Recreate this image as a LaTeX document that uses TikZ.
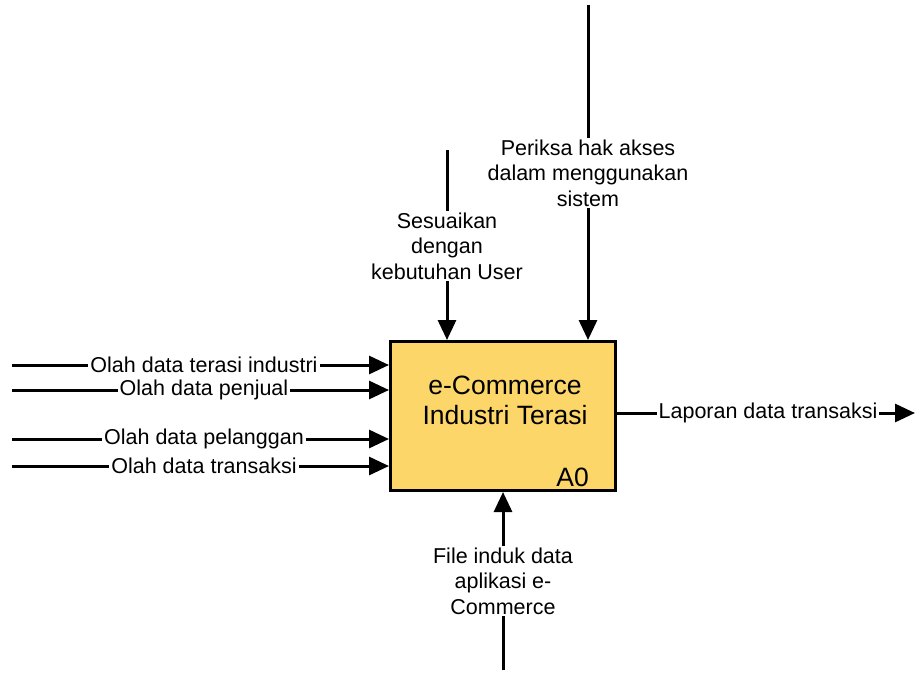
\documentclass[tikz,border=0pt]{standalone}
\usepackage{fontspec}
\setmainfont{Liberation Sans}
\usetikzlibrary{arrows.meta}
\definecolor{boxfill}{RGB}{252,214,104}
\begin{document}
\begin{tikzpicture}[x=1pt,y=-1pt,
  flow/.style={line width=3pt,-{Triangle[length=20pt,width=18pt]}},
  lbl/.style={fill=white,inner sep=2pt,font=\fontsize{21.5}{25.5}\selectfont,align=center},
  funcbox/.style={draw,line width=3pt,fill=boxfill,minimum width=225pt,minimum height=149pt,inner sep=0pt}]
\useasboundingbox (0,0) rectangle (917,675);

% activity box A0
\node[funcbox] (box) at (503,416) {};
\node[font=\fontsize{26.5}{30}\selectfont,align=center] (title) at (505,400) {e-Commerce\\Industri Terasi};
\node[font=\fontsize{26.5}{30}\selectfont,anchor=east,inner sep=0pt] (num) at (589,477) {A0};

% inputs
\coordinate (i1) at (12,365);
\coordinate (i2) at (12,390);
\coordinate (i3) at (12,439);
\coordinate (i4) at (12,466);
\draw[flow] (i1) -- (i1 -| box.west);
\draw[flow] (i2) -- (i2 -| box.west);
\draw[flow] (i3) -- (i3 -| box.west);
\draw[flow] (i4) -- (i4 -| box.west);
\node[lbl] (li1) at (204,365) {Olah data terasi industri};
\node[lbl] (li2) at (204,390) {Olah data penjual};
\node[lbl] (li3) at (204,439) {Olah data pelanggan};
\node[lbl] (li4) at (204,466) {Olah data transaksi};

% controls
\coordinate (c1) at (447,150);
\coordinate (c2) at (588,5);
\draw[flow] (c1) -- (c1 |- box.north);
\draw[flow] (c2) -- (c2 |- box.north);
\node[lbl] (lc1) at (447,246) {Sesuaikan\\dengan\\kebutuhan User};
\node[lbl] (lc2) at (588,173) {Periksa hak akses\\dalam menggunakan\\sistem};

% mechanism
\coordinate (m1) at (503,670);
\draw[flow] (m1) -- (m1 |- box.south);
\node[lbl] (lm1) at (503,581) {File induk data\\aplikasi e-\\Commerce};

% output
\coordinate (o1) at (915,413);
\draw[flow] (o1 -| box.east) -- (o1);
\node[lbl] (lo1) at (768,413) {Laporan data transaksi};
\end{tikzpicture}
\end{document}
